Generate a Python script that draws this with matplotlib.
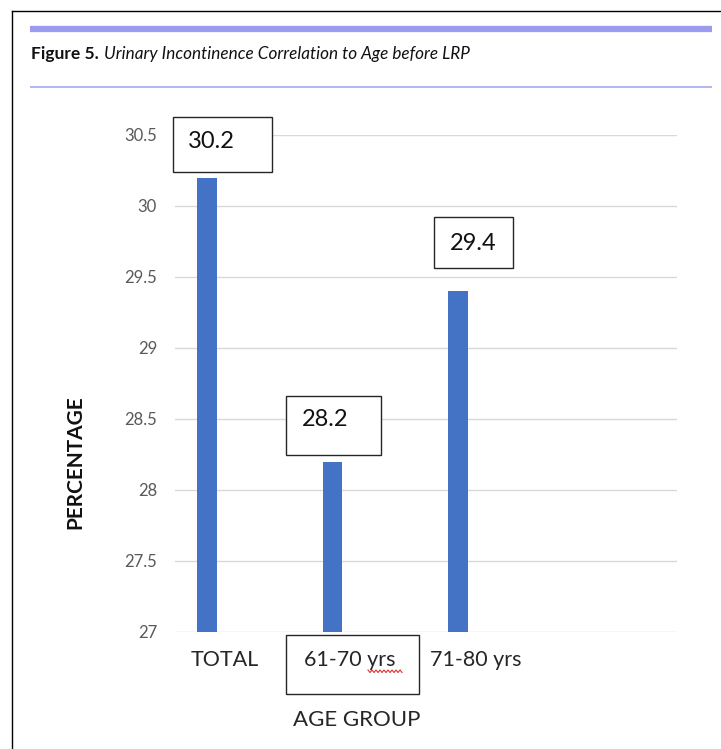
import numpy as np
import matplotlib
matplotlib.use("Agg")
import matplotlib.pyplot as plt
from matplotlib.lines import Line2D
from matplotlib.patches import Rectangle
from matplotlib.transforms import IdentityTransform, ScaledTranslation

# ---- data ----
categories = ["TOTAL", "61-70 yrs", "71-80 yrs"]
values = [30.2, 28.2, 29.4]
y_ticks = [27, 27.5, 28, 28.5, 29, 29.5, 30, 30.5]
y_tick_labels = ["27", "27.5", "28", "28.5", "29", "29.5", "30", "30.5"]

W, H = 721, 749
plt.rcParams["font.family"] = ["Lato", "DejaVu Sans"]

fig = plt.figure(figsize=(W / 100, H / 100), dpi=100)
fig.patch.set_facecolor("white")


def fx(px):
    return px / W


def fy(py):
    return 1 - py / H


# page frame (left and top rules)
fig.add_artist(Line2D([fx(12), fx(12)], [fy(11), fy(749)], color="black", lw=1.0))
fig.add_artist(Line2D([fx(12), fx(721)], [fy(11), fy(11)], color="black", lw=1.0))
# caption rules
fig.add_artist(Line2D([fx(30), fx(712)], [fy(29), fy(29)], color="#9B9BEF", lw=4.5,
                      solid_capstyle="butt"))
fig.add_artist(Line2D([fx(30), fx(712)], [fy(87), fy(87)], color="#A8A8F2", lw=1.2,
                      solid_capstyle="butt"))

# caption
t1 = fig.text(fx(31), fy(54), "Figure 5.", fontsize=12.5, fontweight="bold",
              color="#111111", ha="left", va="center")
fig_ax = fig.add_axes([0, 0, 1, 1], frameon=False)
fig_ax.set_axis_off()
fig_ax.annotate("Urinary Incontinence Correlation to Age before LRP", xy=(1, 0),
                xycoords=t1, xytext=(5, 0), textcoords="offset pixels",
                fontsize=12.3, fontstyle="italic", color="#111111",
                ha="left", va="bottom")

# ---- chart ----
ax = fig.add_axes([fx(175), 117 / H, 502 / W, 497 / H])
x = np.arange(len(categories))
bar_color = "#4472C4"
ax.bar(x, values, width=0.152, color=bar_color, zorder=3)

ax.set_ylim(27, 30.5)
ax.set_xlim(-0.255, 3.745)
ax.set_yticks(y_ticks)
ax.set_yticklabels(y_tick_labels)
ax.yaxis.grid(True, color="#D9D9D9", lw=1.0, zorder=0)
ax.set_axisbelow(True)
for s in ax.spines.values():
    s.set_visible(False)
ax.tick_params(axis="y", length=0, pad=13, labelsize=12, labelcolor="#595959")
ax.tick_params(axis="x", length=0, pad=13, labelsize=15.5, labelcolor="#262626")
ax.set_xticks(x + 0.14)
ax.set_xticklabels(categories)

# frame around the middle category label (pixel offsets from its axis point)
mid_tr = IdentityTransform() + ScaledTranslation(x[1], y_ticks[0], ax.transData)
ax.add_artist(Rectangle((-47, -62), 133, 59, transform=mid_tr, fc="none",
                        ec="#262626", lw=1.0, zorder=4, clip_on=False))

# value labels in boxes, placed above each bar (pixel offsets from bar top)
box_geom = [  # (box left, box right, box bottom, box top, text dx, text dy)
    (-34, 65, 6, 61, 4.5, 36),
    (-47, 48, 7, 66, -7.5, 42),
    (-24, 55, 23, 74, 15.5, 48),
]
for xi, v, g in zip(x, values, box_geom):
    l, r, b, t, tdx, tdy = g
    tr = IdentityTransform() + ScaledTranslation(xi, v, ax.transData)
    rect = Rectangle((l, b), r - l, t - b, transform=tr, fc="white",
                     ec="#262626", lw=1.0, zorder=4, clip_on=False)
    ax.add_artist(rect)
    ax.annotate(f"{v:.1f}", xy=(xi, v), xytext=(tdx, tdy), textcoords="offset pixels",
                ha="center", va="center", fontsize=17, color="#111111", zorder=5,
                annotation_clip=False)

# spell-check squiggle under "yrs"
sq_x = np.arange(368, 403, 2.0)
sq_y = np.where(np.arange(len(sq_x)) % 2 == 0, 670.0, 672.5)
fig.add_artist(Line2D(sq_x / W, 1 - sq_y / H, color="#E03030", lw=0.8))

# axis titles
fig.text(fx(75), fy(462), "PERCENTAGE", rotation=90, fontsize=15, fontweight="bold",
         color="#111111", ha="center", va="center")
fig.text(fx(357), fy(720), "AGE GROUP", fontsize=16, color="#262626",
         ha="center", va="center")

fig.savefig("out.png", dpi=100, facecolor="white")
